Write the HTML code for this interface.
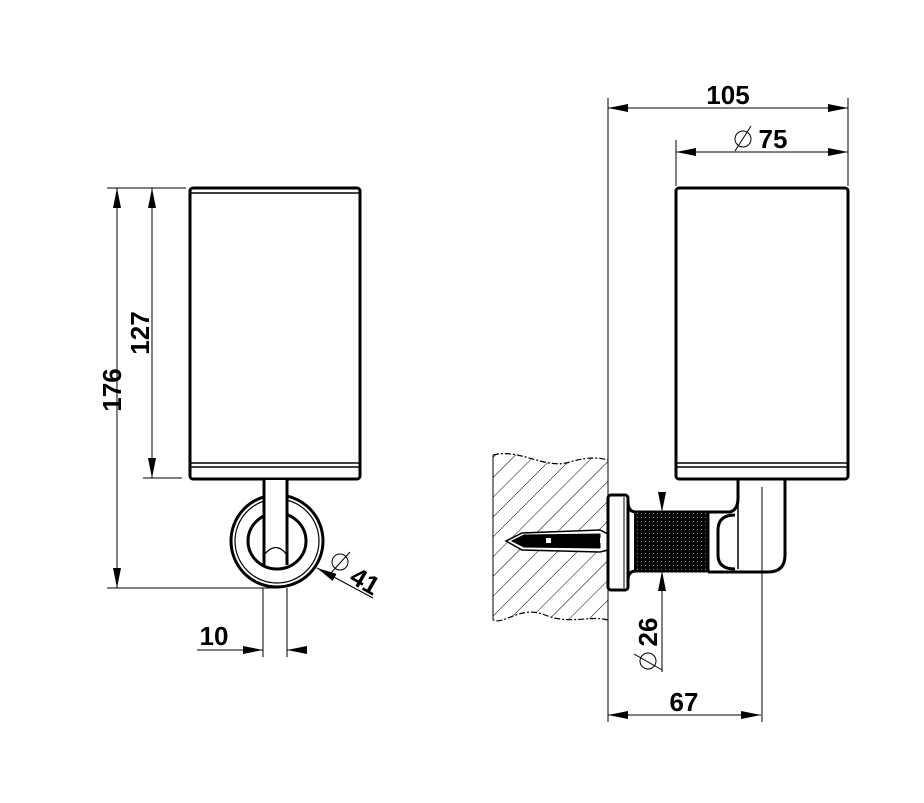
<!DOCTYPE html>
<html><head><meta charset="utf-8"><style>html,body{margin:0;padding:0;background:#fff}svg{display:block}</style></head><body>
<svg width="924" height="803" viewBox="0 0 924 803" xmlns="http://www.w3.org/2000/svg" font-family="Liberation Sans, sans-serif">
<defs>
<marker id="a" viewBox="0 0 20 8" refX="20" refY="4" markerWidth="20" markerHeight="8" orient="auto" markerUnits="userSpaceOnUse"><path d="M0,0 L20,4 L0,8 z" fill="#000"/></marker>
<pattern id="h" width="14" height="14" patternUnits="userSpaceOnUse" patternTransform="rotate(45)"><line x1="0" y1="0" x2="0" y2="14" stroke="#000" stroke-width="1"/></pattern>
<pattern id="k" width="4" height="4" patternUnits="userSpaceOnUse"><rect width="4" height="4" fill="#000"/><rect x="1" y="1" width="1" height="1" fill="#888"/></pattern>
</defs>
<g stroke="#000" fill="none">
<rect x="190" y="188" width="170" height="291" rx="3" stroke-width="3"/>
<line x1="191" y1="193" x2="359" y2="193" stroke-width="1.5"/>
<line x1="191" y1="463" x2="359" y2="463" stroke-width="1.5"/>
<line x1="191" y1="467" x2="359" y2="467" stroke-width="1.5"/>
<circle cx="277" cy="541" r="46" stroke-width="3"/>
<circle cx="277" cy="541" r="42" stroke-width="1.2"/>
<ellipse cx="277" cy="541" rx="29" ry="28" stroke-width="3"/>
<rect x="264" y="480" width="24" height="72" fill="#fff" stroke="none"/>
<line x1="264" y1="480" x2="264" y2="565" stroke-width="3"/>
<line x1="287" y1="480" x2="287" y2="565" stroke-width="3"/>
<path d="M264,555 Q276,540 287,555" stroke-width="1.2"/>
<g stroke-width="1">
<line x1="107" y1="188" x2="186" y2="188"/>
<line x1="143" y1="478" x2="182" y2="478"/>
<line x1="107" y1="588" x2="277" y2="588"/>
<line x1="117" y1="588" x2="117" y2="188" marker-end="url(#a)"/>
<line x1="117" y1="188" x2="117" y2="588" marker-end="url(#a)"/>
<line x1="152" y1="478" x2="152" y2="188" marker-end="url(#a)"/>
<line x1="152" y1="188" x2="152" y2="478" marker-end="url(#a)"/>
<line x1="263" y1="588" x2="263" y2="657"/>
<line x1="287" y1="588" x2="287" y2="657"/>
<line x1="197" y1="650" x2="263" y2="650" marker-end="url(#a)"/>
<line x1="305" y1="650" x2="287" y2="650" marker-end="url(#a)"/>
<line x1="373" y1="598" x2="317" y2="568" marker-end="url(#a)"/>
<circle cx="340" cy="562" r="8"/>
<line x1="330" y1="574" x2="350" y2="552"/>
</g>
<path d="M493,455 C520,448 545,470 570,462 C590,456 600,458 608,460 L608,620 C590,615 570,625 545,615 C520,605 505,625 493,620 Z" fill="url(#h)" stroke="none"/>
<path d="M493,455 C520,448 545,470 570,462 C590,456 600,458 608,460 M608,620 C590,615 570,625 545,615 C520,605 505,625 493,620" stroke-width="1.2" stroke-dasharray="6,2,2,2"/>
<line x1="493" y1="455" x2="493" y2="620" stroke-width="1"/>
<path d="M506,541 L522,533 L600,530 L608,534 L608,550 L600,552 L522,550 Z" fill="#fff" stroke-width="1.5"/>
<path d="M512,541 L524,535 L600,534 L600,548 L524,547 Z" fill="#000"/>
<rect x="546" y="538" width="5" height="5" fill="#fff" stroke="none"/>
<rect x="600" y="538" width="5" height="5" fill="#fff" stroke="none"/>
<rect x="676" y="188" width="172" height="291" rx="3" stroke-width="3"/>
<line x1="677" y1="463" x2="847" y2="463" stroke-width="1.5"/>
<line x1="677" y1="467" x2="847" y2="467" stroke-width="1.5"/>
<rect x="608" y="495" width="20" height="95" rx="3" stroke-width="3" fill="#fff"/>
<line x1="624" y1="497" x2="624" y2="588" stroke-width="1"/>
<path d="M628,502 Q628,512 636,512 L708,512 L708,571 L636,571 Q628,571 628,580" stroke-width="3"/>
<rect x="634" y="512" width="74" height="59" fill="url(#k)" stroke="none"/>
<path d="M708,512 L730,512 Q738,510 738,498 L738,480 M785,480 L785,555 Q785,572 768,572 L708,572" stroke-width="3"/>
<path d="M735,515 Q718,515 718,530 L718,555 Q718,569 735,569" stroke-width="3"/>
<line x1="738" y1="480" x2="738" y2="569" stroke-width="1.5"/>
<g stroke-width="1">
<line x1="608" y1="98" x2="608" y2="722"/>
<line x1="848" y1="98" x2="848" y2="186"/>
<line x1="676" y1="140" x2="676" y2="186"/>
<line x1="762" y1="487" x2="762" y2="722"/>
<line x1="630" y1="108" x2="608" y2="108" marker-end="url(#a)"/>
<line x1="608" y1="108" x2="848" y2="108" marker-end="url(#a)"/>
<line x1="700" y1="152" x2="676" y2="152" marker-end="url(#a)"/>
<line x1="676" y1="152" x2="848" y2="152" marker-end="url(#a)"/>
<circle cx="743" cy="139" r="8"/>
<line x1="735" y1="151" x2="751" y2="126"/>
<line x1="630" y1="715" x2="608" y2="715" marker-end="url(#a)"/>
<line x1="608" y1="715" x2="761" y2="715" marker-end="url(#a)"/>
<line x1="662" y1="492" x2="662" y2="512" marker-end="url(#a)"/>
<line x1="662" y1="672" x2="662" y2="571" marker-end="url(#a)"/>
<circle cx="648" cy="661" r="8"/>
<line x1="634" y1="654" x2="662" y2="670"/>
</g>
</g>
<g font-size="26" font-weight="bold" fill="#000" text-anchor="middle">
<text x="728" y="104">105</text>
<text x="773" y="148">75</text>
<text x="684" y="711">67</text>
<text x="214" y="645">10</text>
<text transform="translate(112,390) rotate(-90)" y="9">176</text>
<text transform="translate(140,333) rotate(-90)" y="9">127</text>
<text transform="translate(648,632) rotate(-90)" y="9">26</text>
<text transform="translate(365,581) rotate(30)" y="9">41</text>
</g>
</svg>
</body></html>
